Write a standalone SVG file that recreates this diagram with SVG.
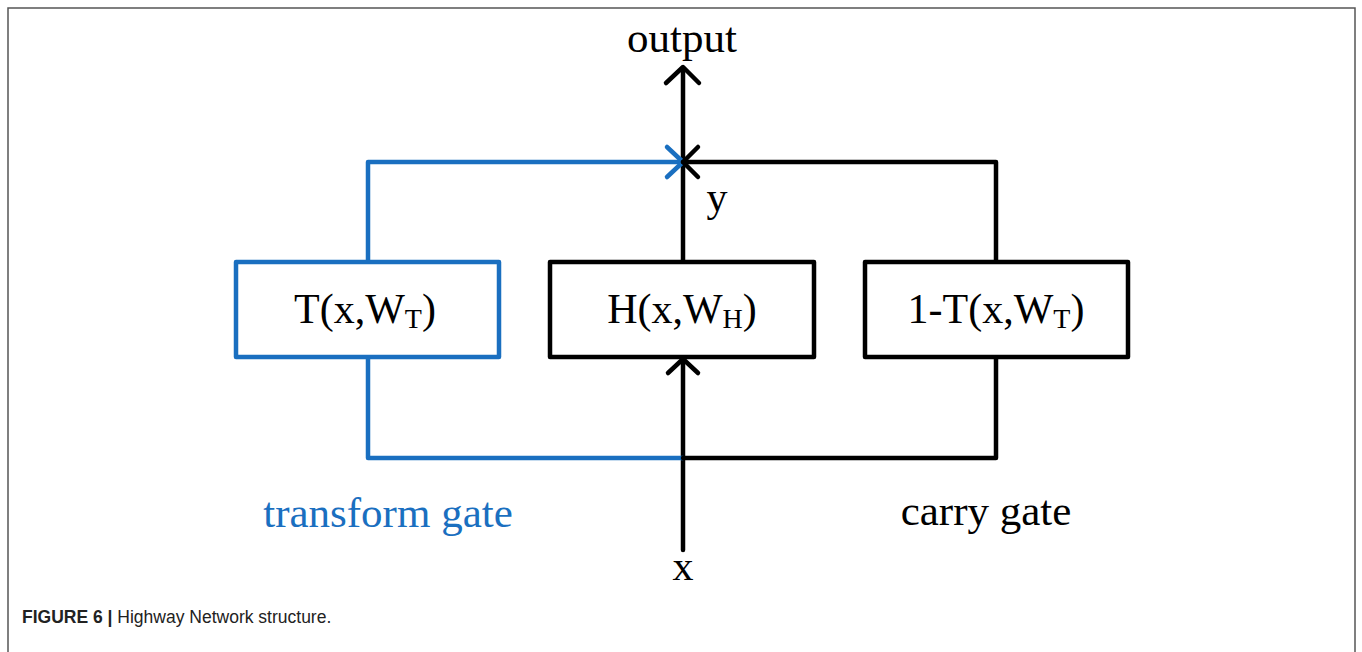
<svg xmlns="http://www.w3.org/2000/svg" width="1362" height="652" viewBox="0 0 1362 652">
<style>
.frame{fill:none;stroke:#555;stroke-width:1.5}
.box{fill:#fff;stroke-width:4.5;stroke-linejoin:round}
.blk{stroke:#000}
.blu{stroke:#1a6fc0}
.ln{fill:none;stroke-width:4.5;stroke-linecap:round;stroke-linejoin:round}
.t{font-family:"Liberation Serif","Times New Roman",serif;font-size:42px;fill:#000}
.big{font-size:43px}
.sub{font-size:28px}
.cap{font-family:"Liberation Sans",Arial,sans-serif;font-size:17.5px;fill:#222}
</style>
<rect width="1362" height="652" fill="#fff"/>
<path class="frame" d="M8 652 V8 H1355 V652"/>
<g id="connectors">
<path class="ln blk" d="M683 550 V360"/>
<path class="ln blk" d="M668 373 L683 359 L698 373"/>
<path class="ln blk" d="M683 262 V68"/>
<path class="ln blk" d="M666 83 L683 67 L699 83"/>
<path class="ln blu" d="M368 262 V162 H683"/>
<path class="ln blu" d="M667 147 L683 162 L667 177"/>
<path class="ln blk" d="M996 262 V162 H683"/>
<path class="ln blk" d="M698 147 L683 162 L698 177"/>
<path class="ln blu" d="M368 357 V458 H683"/>
<path class="ln blk" d="M683 458 H996 V357"/>
</g>
<g id="node-T">
<rect class="box blu" x="236" y="262" width="263" height="95"/>
<text class="t" x="365" y="323" text-anchor="middle">T(x,W<tspan class="sub" dy="5">T</tspan><tspan dy="-5">)</tspan></text>
</g>
<g id="node-H">
<rect class="box blk" x="550" y="262" width="264" height="95"/>
<text class="t" x="682" y="323" text-anchor="middle">H(x,W<tspan class="sub" dy="5">H</tspan><tspan dy="-5">)</tspan></text>
</g>
<g id="node-1T">
<rect class="box blk" x="865" y="262" width="263" height="95"/>
<text class="t" x="996" y="323" text-anchor="middle">1-T(x,W<tspan class="sub" dy="5">T</tspan><tspan dy="-5">)</tspan></text>
</g>
<g id="labels">
<text class="t big" x="682" y="52" text-anchor="middle">output</text>
<text class="t" x="717" y="211" text-anchor="middle">y</text>
<text class="t" x="683" y="580" text-anchor="middle">x</text>
<text class="t big" x="388" y="527" text-anchor="middle" style="fill:#1a6fc0">transform gate</text>
<text class="t big" x="986" y="525" text-anchor="middle">carry gate</text>
</g>
<text class="cap" x="22" y="623"><tspan font-weight="bold">FIGURE 6 |</tspan> Highway Network structure.</text>
</svg>
